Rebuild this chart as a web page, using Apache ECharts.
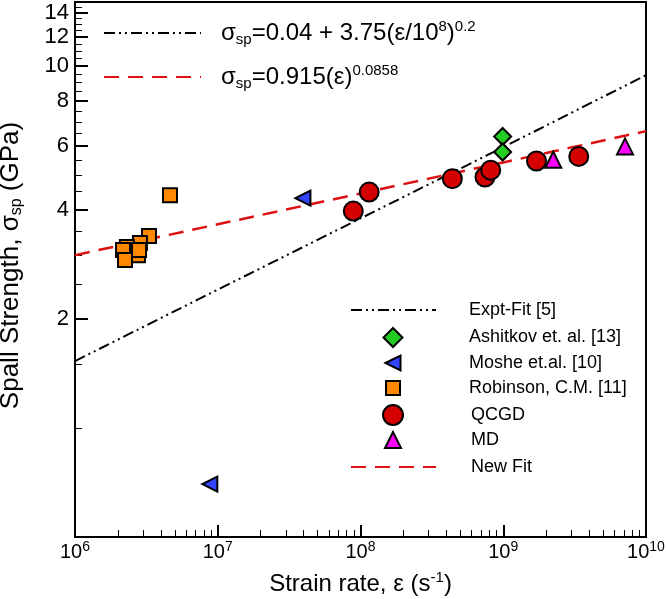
<!DOCTYPE html>
<html>
<head>
<meta charset="utf-8">
<script src="https://cdn.jsdelivr.net/npm/echarts@6/dist/echarts.min.js"></script>
<style>
  html, body { margin: 0; padding: 0; background: #fff; }
  #chart { width: 666px; height: 599px; }
</style>
</head>
<body>
<div id="chart"></div>
<script>
// fits (at each decade)
const exptFitRate = [1e6, 1e7, 1e8, 1e9, 1e10];
const exptFitSigma = [1.53, 2.41, 3.79, 5.96, 9.42];
const newFitRate = [1e6, 1e7, 1e8, 1e9, 1e10];
const newFitSigma = [3.0, 3.65, 4.44, 5.41, 6.6];
// measured points
const ashitkovRate = [9.9e8, 9.9e8];
const ashitkovSigma = [6.38, 5.78];
const mosheRate = [8.8e6, 3.95e7];
const mosheSigma = [0.70, 4.31];
const robinsonRate = [4.63e6, 3.30e6, 2.85e6, 2.76e6, 2.31e6, 2.17e6, 2.24e6, 2.81e6];
const robinsonSigma = [4.39, 3.39, 3.24, 3.0, 3.16, 3.10, 2.91, 3.1];
const qcgdRate = [8.9e7, 1.15e8, 4.4e8, 7.45e8, 8.17e8, 1.71e9, 3.38e9];
const qcgdSigma = [3.97, 4.48, 4.88, 4.93, 5.15, 5.46, 5.62];
const mdRate = [2.24e9, 7.13e9];
const mdSigma = [5.5, 5.99];
// ticks
const xTickExps = [6, 7, 8, 9, 10];
const yTickLabels = [2, 4, 6, 8, 10, 12, 14];
const yMinorTicks = [1, 1.5, 2.5, 3, 3.5, 4.5, 5, 5.5, 6.5, 7, 7.5, 8.5, 9, 9.5, 10.5, 11, 11.5, 12.5, 13, 13.5, 14.5];

const FONT = '"Liberation Sans", Arial, sans-serif';
const lg = Math.log10;

function pts(rate, sigma) {
  return rate.map((r, i) => [lg(r), lg(sigma[i])]);
}

// minor x ticks 2..9 x 10^n
let xMinor = [];
for (let e = 6; e < 10; e++) {
  for (let m = 2; m <= 9; m++) xMinor.push(lg(m * Math.pow(10, e)));
}

const chart = echarts.init(document.getElementById('chart'));

const eqRich = {
  m: { fontSize: 24, lineHeight: 28, fontFamily: FONT, color: '#000' },
  sup: { fontSize: 15, lineHeight: 14, verticalAlign: 'top', fontFamily: FONT, color: '#000' },
  sub: { fontSize: 15, lineHeight: 6, verticalAlign: 'bottom', fontFamily: FONT, color: '#000' }
};

const equations = {
  'Expt-Fit [5]': '{m|σ}{sub|sp}{m|=0.04 + 3.75(ε/10}{sup|8}{m|)}{sup|0.2}',
  'New Fit': '{m|σ}{sub|sp}{m|=0.915(ε)}{sup|0.0858}'
};

// legend rows: name, centre y, icon size (0 = line sample), text x, custom icon
const legendRows = [
  ['Expt-Fit [5]', 310, 0, 468, null],
  ['Ashitkov et. al. [13]', 337, 19, 468, null],
  ['Moshe et.al. [10]', 363, 15, 468, 'path://M0,5L10,0L10,10Z'],
  ['Robinson, C.M. [11]', 388, 14, 468, null],
  ['QCGD', 414, 20, 470, null],
  ['MD', 440, 16, 470, null],
  ['New Fit', 467, 0, 470, null]
];
const iconX = 392; // centre of the symbol column

let legends = legendRows.map(row => {
  const isLine = row[2] === 0;
  const w = isLine ? 85 : row[2];
  const left = isLine ? 350 : iconX - w / 2;
  return {
    orient: 'vertical',
    left: left,
    top: row[1] - 10,
    padding: 0,
    itemWidth: w,
    itemHeight: isLine ? 14 : row[2],
    selectedMode: false,
    data: [row[4] ? { name: row[0], icon: row[4] } : row[0]],
    itemStyle: isLine ? { opacity: 0 } : {},
    textStyle: {
      fontSize: 18, fontFamily: FONT, color: '#000', lineHeight: 20,
      padding: [0, 0, 0, row[3] - (left + w + 5)]
    }
  };
});
// equations in the top-left corner
[['Expt-Fit [5]', 33], ['New Fit', 77]].forEach(eq => {
  legends.push({
    orient: 'vertical',
    left: 103,
    top: eq[1] - 14,
    padding: 0,
    itemWidth: 97,
    itemHeight: 14,
    selectedMode: false,
    data: [eq[0]],
    itemStyle: { opacity: 0 },
    formatter: name => equations[name],
    textStyle: { fontSize: 24, fontFamily: FONT, color: '#000', lineHeight: 28, padding: [0, 0, 0, 15], rich: eqRich }
  });
});

function scatter(name, rate, sigma, symbol, size, color, rotate) {
  return {
    name: name,
    type: 'scatter',
    data: pts(rate, sigma),
    symbol: symbol,
    symbolSize: size,
    symbolRotate: rotate || 0,
    itemStyle: { color: color, borderColor: '#000', borderWidth: 2, opacity: 1 },
    z: 5
  };
}

const gridBox = { left: 75, right: 20, top: 2, bottom: 62, outerBoundsMode: 'none', containLabel: false };

let option = {
  backgroundColor: '#fff',
  animation: false,
  textStyle: { fontFamily: FONT },
  grid: [
    Object.assign({ show: true, borderColor: '#000', borderWidth: 2 }, gridBox),
    // second grid on top of the first, only carries the minor ticks
    Object.assign({ show: false }, gridBox)
  ],
  legend: legends,
  xAxis: [{
    type: 'value',
    gridIndex: 0,
    position: 'bottom',
    min: 6, max: 10,
    axisLine: { show: false, onZero: false },
    splitLine: { show: false },
    axisTick: { inside: true, length: 12, customValues: xTickExps, lineStyle: { color: '#000', width: 2 } },
    axisLabel: {
      customValues: xTickExps,
      margin: 3,
      formatter: v => '{a|10}{b|' + v + '}',
      rich: {
        a: { fontSize: 20, lineHeight: 24, fontFamily: FONT, color: '#000' },
        b: { fontSize: 14, lineHeight: 13, verticalAlign: 'top', fontFamily: FONT, color: '#000' }
      }
    },
    name: '{m|Strain rate, ε (s}{sup|-1}{m|)}',
    nameLocation: 'middle',
    nameGap: 33,
    nameTextStyle: {
      rich: {
        m: { fontSize: 24, lineHeight: 28, fontFamily: FONT, color: '#000' },
        sup: { fontSize: 15, lineHeight: 14, verticalAlign: 'top', fontFamily: FONT, color: '#000' }
      }
    }
  }, {
    type: 'value',
    gridIndex: 1,
    position: 'bottom',
    min: 6, max: 10,
    axisLine: { show: false, onZero: false },
    splitLine: { show: false },
    axisTick: { inside: true, length: 7, customValues: xMinor, lineStyle: { color: '#000', width: 1 } },
    axisLabel: { show: false }
  }],
  yAxis: [{
    type: 'value',
    gridIndex: 0,
    position: 'left',
    min: lg(0.5), max: lg(15),
    axisLine: { show: false, onZero: false },
    splitLine: { show: false },
    axisTick: { inside: true, length: 13, customValues: yTickLabels.map(lg), lineStyle: { color: '#000', width: 2 } },
    axisLabel: {
      customValues: yTickLabels.map(lg),
      margin: 6,
      fontSize: 22,
      fontFamily: FONT,
      color: '#000',
      formatter: v => String(Math.round(Math.pow(10, v)))
    },
    name: '{m|Spall Strength, σ}{sub|sp}{m| (GPa)}',
    nameLocation: 'middle',
    nameGap: 50,
    nameTextStyle: {
      padding: [0, 0, 0, 8],
      rich: {
        m: { fontSize: 26, lineHeight: 28, fontFamily: FONT, color: '#000' },
        sub: { fontSize: 16, lineHeight: 6, verticalAlign: 'bottom', fontFamily: FONT, color: '#000' }
      }
    }
  }, {
    type: 'value',
    gridIndex: 1,
    position: 'left',
    min: lg(0.5), max: lg(15),
    axisLine: { show: false, onZero: false },
    splitLine: { show: false },
    axisTick: { inside: true, length: 7, customValues: yMinorTicks.map(lg), lineStyle: { color: '#000', width: 1 } },
    axisLabel: { show: false }
  }],
  series: [
    {
      name: 'Expt-Fit [5]',
      type: 'line',
      data: pts(exptFitRate, exptFitSigma),
      symbol: 'none',
      lineStyle: { color: '#000', width: 2, type: [11, 4, 2, 4, 2, 4] },
      itemStyle: { color: '#000' },
      z: 2
    },
    {
      name: 'New Fit',
      type: 'line',
      data: pts(newFitRate, newFitSigma),
      symbol: 'none',
      lineStyle: { color: '#dd1111', width: 2.5, type: [15, 9] },
      itemStyle: { color: '#dd1111' },
      z: 2
    },
    scatter('Ashitkov et. al. [13]', ashitkovRate, ashitkovSigma, 'diamond', 17, '#22cc22'),
    scatter('Moshe et.al. [10]', mosheRate, mosheSigma, 'triangle', 15, '#3344ff', 90),
    scatter('Robinson, C.M. [11]', robinsonRate, robinsonSigma, 'rect', 14, '#ff8800'),
    scatter('QCGD', qcgdRate, qcgdSigma, 'circle', 19, '#d40000'),
    scatter('MD', mdRate, mdSigma, 'triangle', 16, '#ff00ff')
  ]
};

chart.setOption(option);
</script>
</body>
</html>
